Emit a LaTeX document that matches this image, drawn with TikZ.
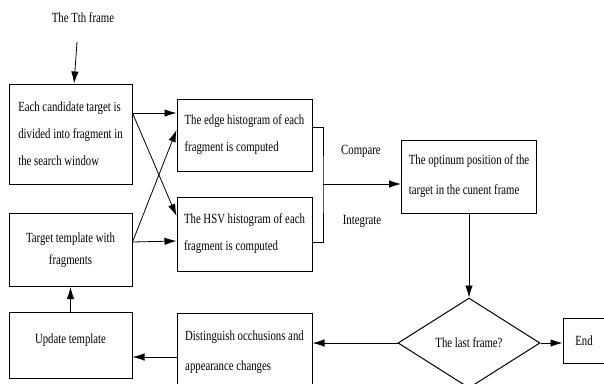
\documentclass[tikz,border=0pt]{standalone}
\usepackage{fontspec}
\setmainfont[FakeStretch=0.77]{Liberation Serif}
\usetikzlibrary{arrows.meta}
\usetikzlibrary{positioning}
\usetikzlibrary{shapes.geometric}

\begin{document}
\begin{tikzpicture}[x=1pt,y=-1pt,
				line width=0.8pt,
				>={Latex[length=12pt,width=7.5pt]},
				main node/.style={rectangle,draw,line width=1pt,inner sep=0pt,
					font=\fontsize{14}{27}\selectfont,align=left},
				label node/.style={font=\fontsize{14}{16}\selectfont}]
				
				\useasboundingbox (0,0) rectangle (604,383);
				
				\node[label node] (T) at (83,18) {The Tth frame};
				\coordinate (S) at (77,42);
				
				\node[main node,minimum width=123pt,minimum height=100pt] (A) at (70.5,134)
					{Each candidate target is\\divided into fragment in\\the search window};
				\node[main node,minimum width=135pt,minimum height=72pt] (B) at (244.5,135)
					{The edge histogram of each\\fragment is computed};
				\node[main node,minimum width=135pt,minimum height=74pt] (C) at (244.5,234)
					{The HSV histogram of each\\fragment is computed};
				\node[main node,align=center,minimum width=123pt,minimum height=73pt,
					font=\fontsize{14}{22}\selectfont] (D) at (70.5,250)
					{Target template with\\fragments};
				\node[main node,align=center,minimum width=123pt,minimum height=66pt,
					text depth=12pt] (E) at (70.5,345) {Update template};
				\node[main node,minimum width=135pt,minimum height=78pt,
					font=\fontsize{14}{30}\selectfont] (F) at (244.5,352)
					{Distinguish occhusions and\\appearance changes};
				\node[main node,minimum width=135pt,minimum height=73pt,
					font=\fontsize{14}{30}\selectfont] (G) at (469,176.5)
					{The optinum position of the\\target in the cunent frame};
				\node[main node,diamond,aspect=1.58,minimum width=142pt,minimum height=90pt] (H)
					at (469,343) {The last frame?};
				\node[main node,minimum width=42pt,minimum height=45pt] (I) at (584,340.5) {End};
				
				\coordinate (J) at (323,184);
				\node[label node] (K) at (361,151) {Compare};
				\node[label node] (L) at (362,221) {Integrate};
				
				\draw[->] (S) -- (A);
				\draw[->] ([yshift=21pt]A.east) -- ([yshift=22pt]B.west);
				\draw[->] ([yshift=21pt]A.east) -- ([yshift=18pt]C.west);
				\draw[->] ([yshift=8pt]D.east) -- ([yshift=5pt]B.west);
				\draw[->] ([yshift=8pt]D.east) -- ([yshift=-7pt]C.west);
				\draw ([yshift=8pt]B.east) -| (J) |- ([yshift=-8pt]C.east);
				\draw[->] (J) -- (J -| G.west);
				\draw[->] (G) -- (H);
				\draw[->] (H.west) -- (H.west -| F.east);
				\draw[->] (H.east) -- (H.east -| I.west);
				\draw[->] ([yshift=-5pt]F.west) -- ([yshift=-5pt]F.west -| E.east);
				\draw[->] (E) -- (D);
			\end{tikzpicture}
\end{document}
